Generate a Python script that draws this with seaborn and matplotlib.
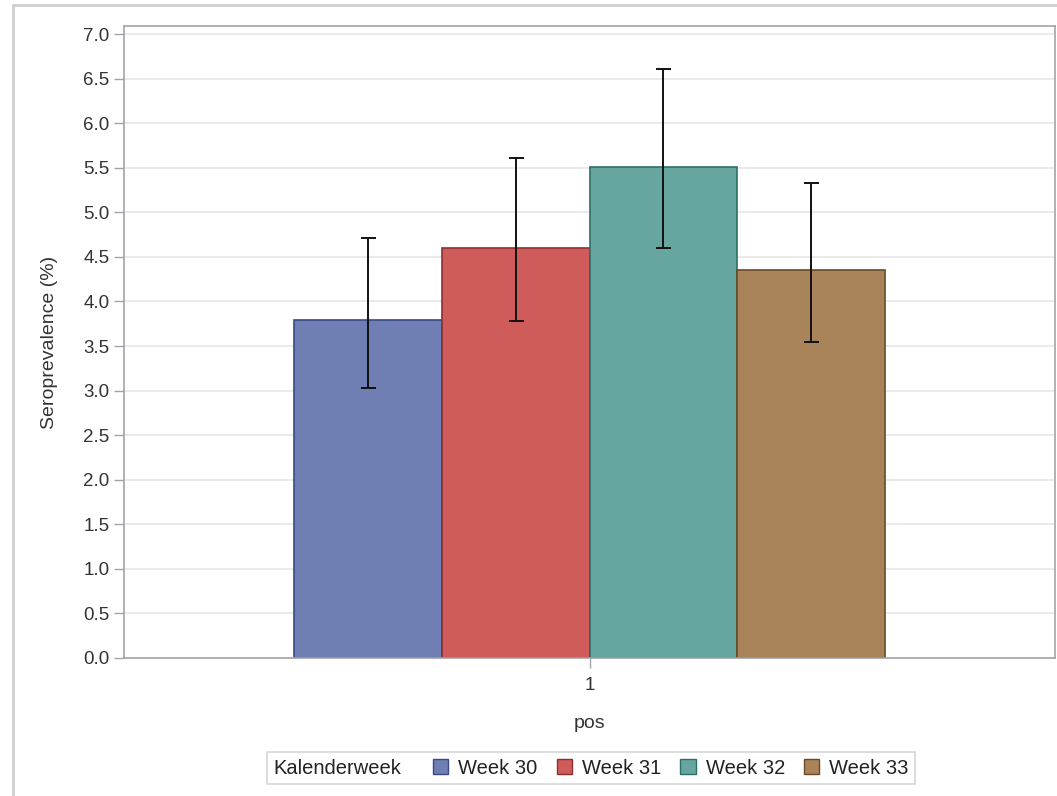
import matplotlib
matplotlib.use("Agg")
import matplotlib.pyplot as plt
import seaborn as sns
import pandas as pd
from matplotlib.patches import Patch
from matplotlib.lines import Line2D
from matplotlib.offsetbox import HPacker

weeks = ["Week 30", "Week 31", "Week 32", "Week 33"]
positions = ["1", "1", "1", "1"]
prevalence = [3.79, 4.60, 5.51, 4.35]
ci_low = [3.03, 3.78, 4.60, 3.54]
ci_high = [4.71, 5.61, 6.61, 5.33]

fill_colors = ["#6F7EB3", "#D05B5B", "#66A5A0", "#A9845B"]
edge_colors = ["#3A4A85", "#8E2F2F", "#2F6E68", "#6A4A25"]

sns.set_theme(style="white")
plt.rcParams["font.family"] = ["Liberation Sans", "DejaVu Sans"]

df = pd.DataFrame({"pos": positions, "Kalenderweek": weeks, "value": prevalence})

fig = plt.figure(figsize=(10.57, 7.96), dpi=100)
ax = fig.add_axes([124 / 1057, 1 - 658 / 796, (1055 - 124) / 1057, (658 - 26) / 796])

sns.barplot(data=df, x="pos", y="value", hue="Kalenderweek", hue_order=weeks,
            palette=fill_colors, width=0.635, errorbar=None, ax=ax,
            saturation=1, legend=False, zorder=2)

bars = [p for p in ax.patches]
for i, p in enumerate(bars[:len(weeks)]):
    p.set_edgecolor(edge_colors[i])
    p.set_linewidth(1.2)
    cx = p.get_x() + p.get_width() / 2
    ax.errorbar([cx], [prevalence[i]],
                yerr=[[prevalence[i] - ci_low[i]], [ci_high[i] - prevalence[i]]],
                fmt="none", ecolor="#111111", elinewidth=1.4, capsize=5.4,
                capthick=1.4, zorder=3)

ax.set_xlim(-0.5, 0.5)
ax.set_ylim(0, 7.09)
ax.set_yticks([i * 0.5 for i in range(15)])
ax.set_yticklabels([f"{i * 0.5:.1f}" for i in range(15)])
ax.yaxis.grid(True, color="#E6E6E6", linewidth=1.2, zorder=0)
ax.set_axisbelow(True)

for s in ax.spines.values():
    s.set_color("#A0A4A8")
    s.set_linewidth(1.2)
ax.tick_params(axis="both", which="both", direction="out", length=7, width=1,
               color="#A0A4A8", labelsize=13.5, labelcolor="#333333",
               left=True, bottom=True)
ax.tick_params(axis="y", pad=3.5)
ax.tick_params(axis="x", pad=7)
ax.set_xlabel("pos", fontsize=14, color="#333333", labelpad=15)
ax.set_ylabel("Seroprevalence (%)", fontsize=14, color="#333333", labelpad=18)

handles = [Patch(facecolor=fill_colors[i], edgecolor=edge_colors[i], linewidth=1)
           for i in range(len(weeks))]
leg = fig.legend(handles, weeks, title="Kalenderweek", loc="center",
                 bbox_to_anchor=(591 / 1057, 1 - 768 / 796), ncol=4,
                 fontsize=14.5, title_fontsize=14.5, frameon=True, fancybox=False,
                 edgecolor="#CCCCCC", handlelength=0.75, handleheight=0.75,
                 handletextpad=0.5, columnspacing=0.95, borderpad=0.3)
leg.get_frame().set_linewidth(1.2)
for t in leg.get_texts():
    t.set_color("#222222")
leg.get_title().set_color("#222222")
try:
    vp = leg._legend_box
    hp = HPacker(children=vp.get_children(), align="center", pad=vp.pad, sep=23)
    hp.set_figure(fig)
    hp.set_offset(leg._findoffset)
    leg._legend_box = hp
except Exception:
    pass

fig.add_artist(Line2D([13 / 1057, 13 / 1057], [0, 1 - 5 / 796], transform=fig.transFigure,
                      color="#D0D0D0", linewidth=2))
fig.add_artist(Line2D([13 / 1057, 1], [1 - 5 / 796, 1 - 5 / 796], transform=fig.transFigure,
                      color="#D0D0D0", linewidth=2))

fig.savefig("out.png", dpi=100, facecolor="white")
